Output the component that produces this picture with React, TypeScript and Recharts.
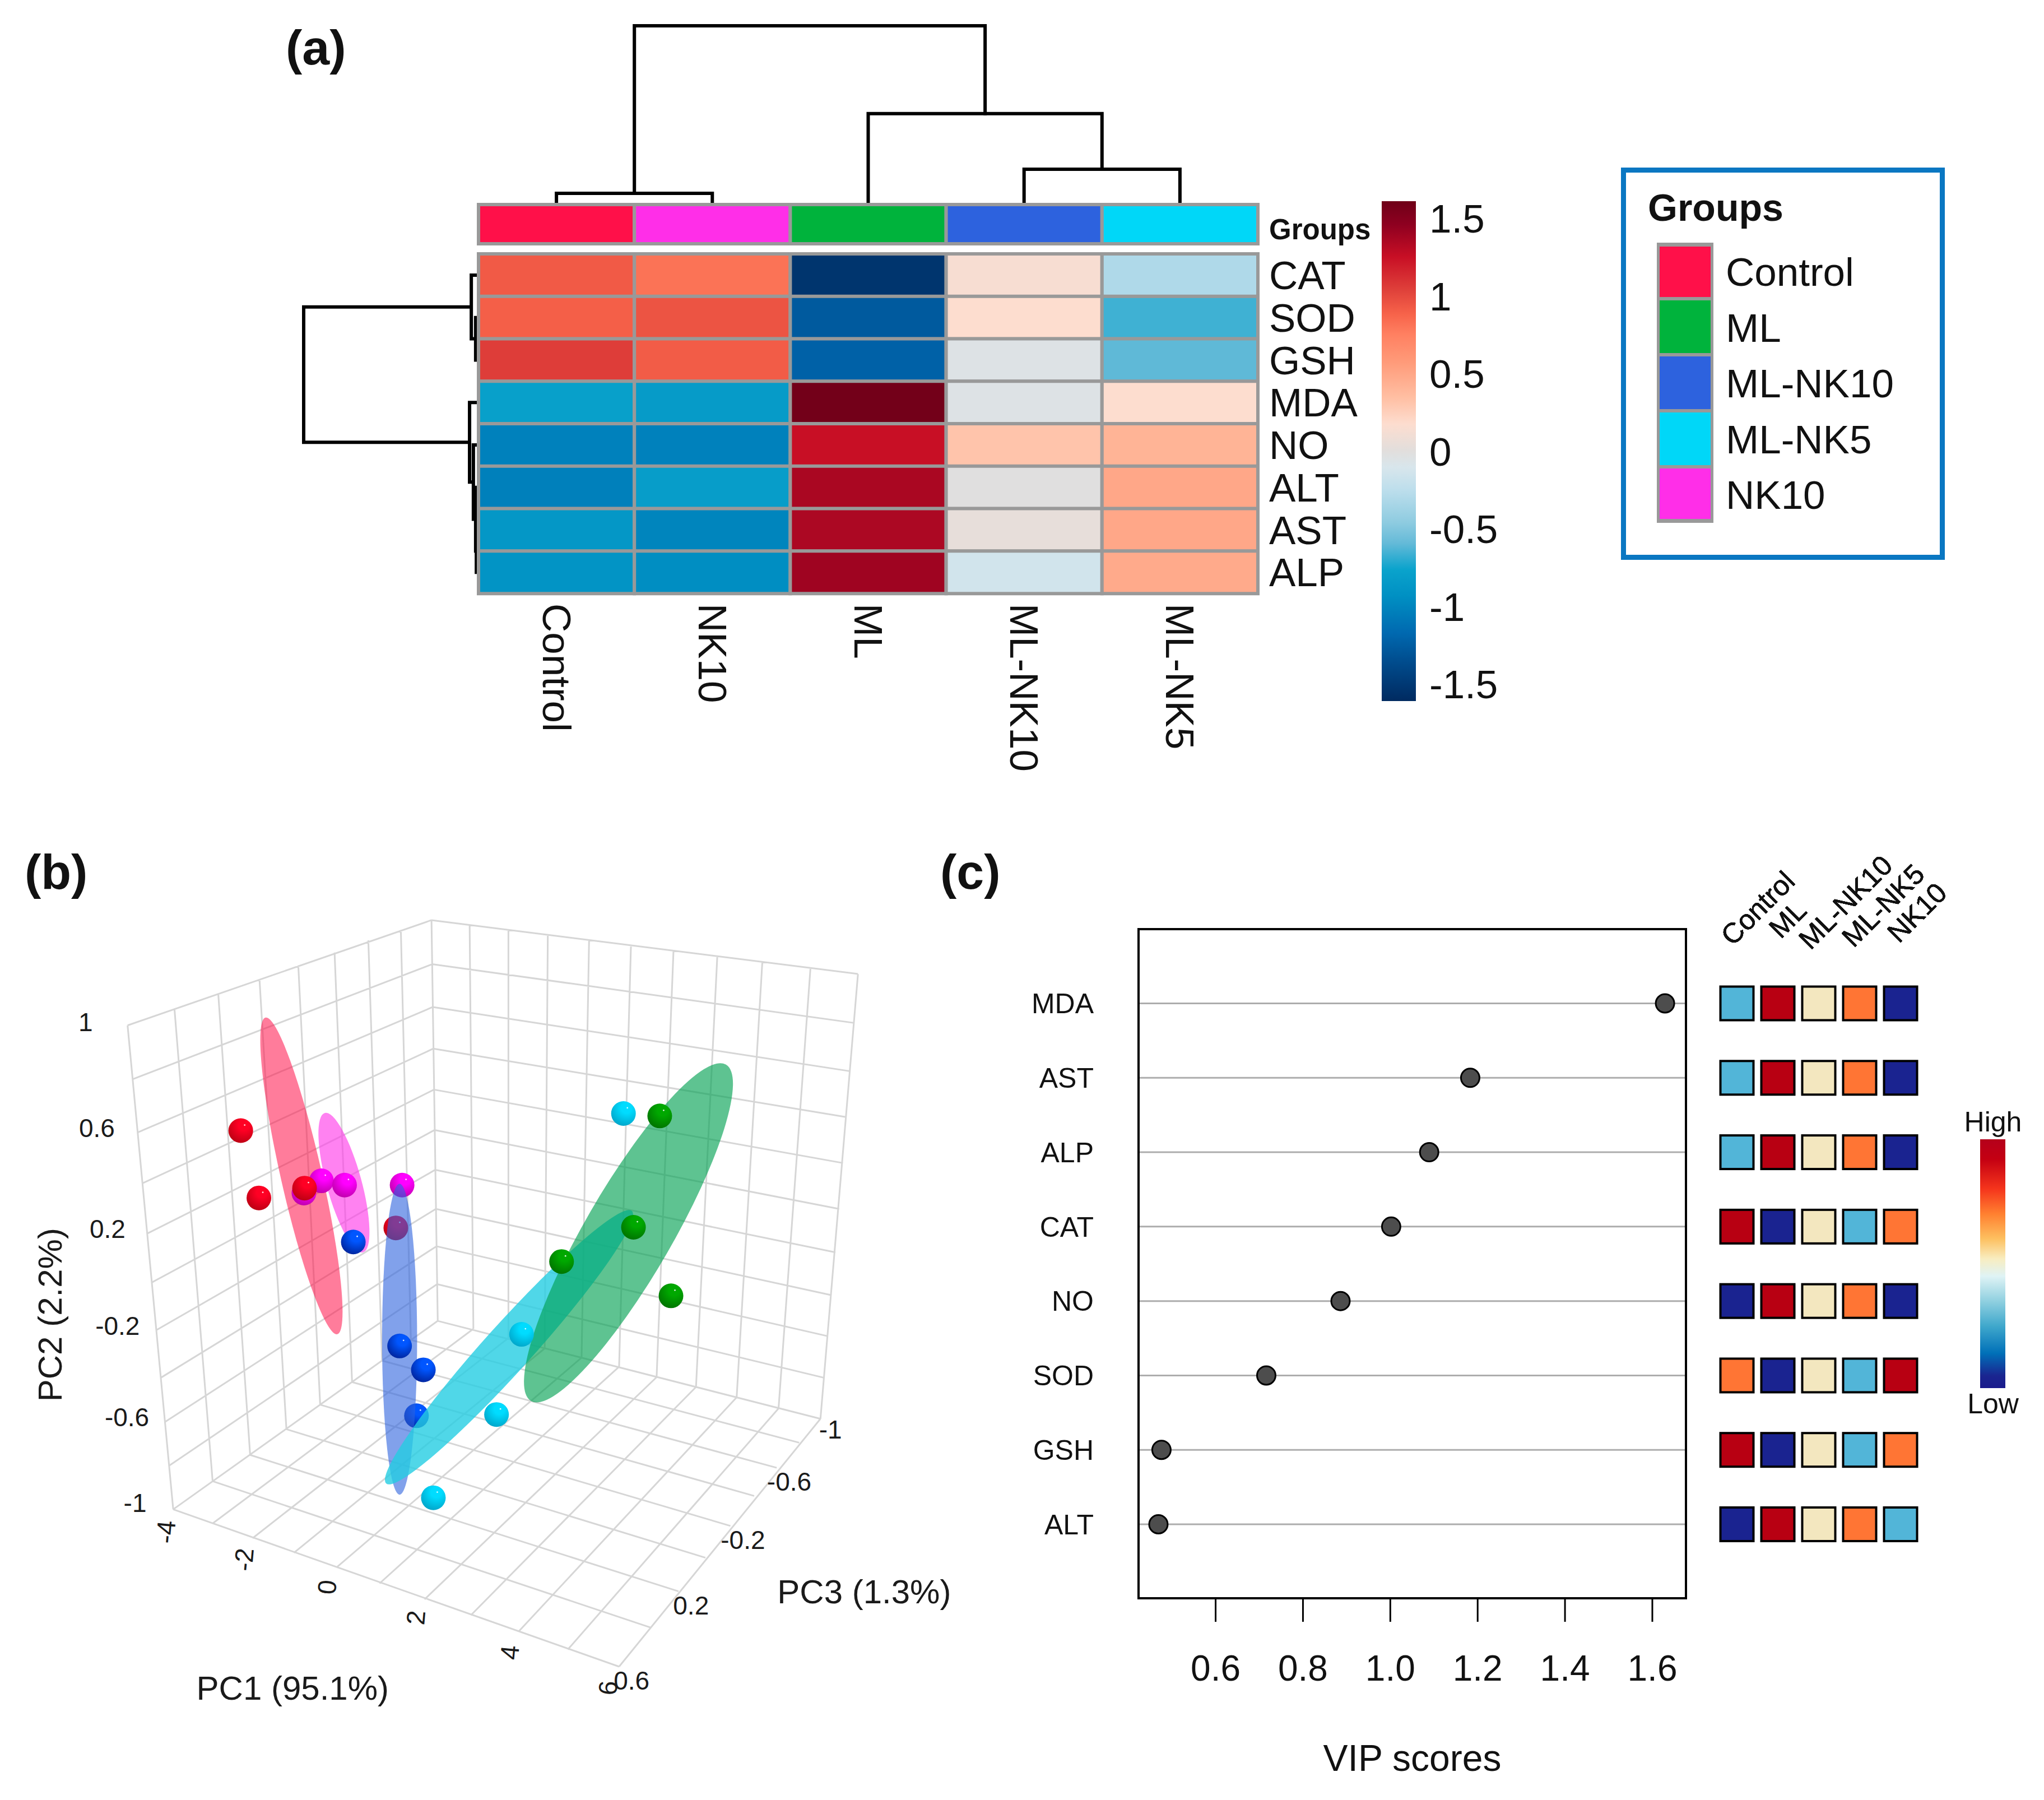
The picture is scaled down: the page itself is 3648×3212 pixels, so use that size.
import {
  BarChart, Bar, Cell, XAxis, YAxis, LineChart, Line,
  ComposedChart, Scatter, ScatterChart, CartesianGrid,
} from "recharts"

const FONT = "Liberation Sans"

// ── (a) heatmap data ─────────────────────────────────────────────────────────

const groups = ["Control", "ML", "ML-NK10", "ML-NK5", "NK10"]
const groupColors: Record<string, string> = {
  Control: "#FF1049", ML: "#00B33C", "ML-NK10": "#2D62DE", "ML-NK5": "#00D7F8", NK10: "#FF2EE8",
}
const heatColumns = ["Control", "NK10", "ML", "ML-NK10", "ML-NK5"]
const heatRows = ["CAT", "SOD", "GSH", "MDA", "NO", "ALT", "AST", "ALP"]
const heatValues = [
  [0.93, 0.82, -1.53, 0.14, -0.31],
  [0.91, 0.96, -1.27, 0.18, -0.66],
  [1.06, 0.92, -1.22, -0.05, -0.6],
  [-0.79, -0.83, 1.6, -0.05, 0.18],
  [-1.02, -1.02, 1.26, 0.32, 0.42],
  [-1.03, -0.81, 1.37, -0.01, 0.5],
  [-0.87, -1.0, 1.36, 0.04, 0.5],
  [-0.89, -0.94, 1.41, -0.14, 0.48],
]
const colorbarTicks = [-1.5, -1, -0.5, 0, 0.5, 1, 1.5]
const colorbarRange = [-1.608, 1.612]

// z value -> colour
const zStops: [number, string][] = [
  [1.62, "#6F0018"], [1.47, "#8E0020"], [1.26, "#C80F25"], [1.04, "#E0423B"], [0.89, "#F7634A"],
  [0.76, "#FF8061"], [0.57, "#FF9C7B"], [0.35, "#FFBFA3"], [0.18, "#FDDDCF"], [0.01, "#E2DEDC"],
  [-0.1, "#D8E6EC"], [-0.25, "#BCDEEC"], [-0.46, "#8DCBE0"], [-0.59, "#64BAD8"], [-0.76, "#0AA3CC"],
  [-0.93, "#0090C3"], [-1.17, "#0069B0"], [-1.37, "#004A8B"], [-1.61, "#002A60"],
]

function zColor(z: number) {
  for (let i = 0; i < zStops.length - 1; i++) {
    const [z0, c0] = zStops[i]
    const [z1, c1] = zStops[i + 1]
    if (z <= z0 && z >= z1) {
      const t = (z0 - z) / (z0 - z1)
      const mix = [1, 3, 5].map((p) => {
        const a = parseInt(c0.slice(p, p + 2), 16)
        const b = parseInt(c1.slice(p, p + 2), 16)
        return Math.round(a + (b - a) * t)
      })
      return `rgb(${mix.join(",")})`
    }
  }
  return z > 0 ? zStops[0][1] : zStops[zStops.length - 1][1]
}

// dendrogram merges: a,b = leaf positions, h = merge height, ha,hb = child heights
const columnMerges = [
  { a: 0.5, b: 1.5, h: 5.1, ha: 0, hb: 0 },
  { a: 3.5, b: 4.5, h: 18.7, ha: 0, hb: 0 },
  { a: 2.5, b: 4, h: 50.2, ha: 0, hb: 18.7 },
  { a: 1, b: 3.25, h: 100, ha: 5.1, hb: 50.2 },
]
const rowMerges = [
  { a: 1.5, b: 2.5, h: 1, ha: 0, hb: 0 },
  { a: 0.5, b: 2, h: 3.5, ha: 0, hb: 1 },
  { a: 6.5, b: 7.5, h: 0.6, ha: 0, hb: 0 },
  { a: 5.5, b: 7, h: 1, ha: 0, hb: 0.6 },
  { a: 4.5, b: 6.25, h: 2.3, ha: 0, hb: 1 },
  { a: 3.5, b: 5.375, h: 4.5, ha: 0, hb: 2.3 },
  { a: 1.25, b: 4.44, h: 100, ha: 3.5, hb: 4.5 },
]

// ── (b) PCA in the projected plane ───────────────────────────────────────────

type Pt = [number, number]
const wallLeftTop: Pt[] = [[204, 302], [279, 275], [349, 250], [415, 227], [477, 204], [535, 183], [589, 163], [641, 146], [690, 130]]
const wallLeftBottom: Pt[] = [[277, 1093], [340, 1047], [400, 1004], [458, 962], [512, 922], [563, 885], [611, 850], [657, 816], [700, 785]]
const edgeLeft: Pt[] = [[204, 302], [212, 390], [220, 477], [228, 560], [236, 642], [243, 722], [250, 800], [257, 878], [264, 950], [270, 1022], [277, 1093]]
const edgeBack: Pt[] = [[690, 130], [691, 202], [692, 272], [693, 340], [694, 407], [695, 473], [696, 538], [697, 602], [698, 663], [699, 725], [700, 785]]
const edgeRight: Pt[] = [[1372, 218], [1366, 298], [1360, 377], [1354, 452], [1348, 527], [1342, 602], [1336, 673], [1330, 743], [1324, 810], [1318, 878], [1312, 945]]
const wallRightTop: Pt[] = [[690, 130], [751, 138], [813, 146], [876, 154], [942, 163], [1009, 171], [1077, 180], [1147, 190], [1219, 199], [1296, 209], [1372, 218]]
const wallRightBottom: Pt[] = [[700, 785], [757, 798], [813, 813], [871, 830], [930, 845], [990, 860], [1050, 877], [1113, 893], [1178, 910], [1245, 928], [1312, 945]]
const floorFront: Pt[] = [[277, 1093], [340, 1116], [404, 1140], [470, 1164], [538, 1188], [607, 1214], [679, 1240], [753, 1266], [829, 1293], [908, 1322], [990, 1350]]
const floorSide: Pt[] = [[990, 1350], [1040, 1286], [1085, 1227], [1128, 1172], [1168, 1120], [1206, 1071], [1242, 1025], [1278, 984], [1312, 945]]

const gridPairs: [Pt[], Pt[]][] = [
  [wallLeftTop, wallLeftBottom],
  [edgeLeft, edgeBack],
  [edgeBack, edgeRight],
  [wallRightTop, wallRightBottom],
  [floorFront, wallRightBottom],
  [wallLeftBottom, floorSide],
]
const gridPoints = gridPairs.flatMap(([from, to]) =>
  from.flatMap((p, i) => [
    { x: p[0], y: p[1] },
    { x: to[i][0], y: to[i][1] },
    { x: to[i][0], y: null as number | null },
  ])
)

const redBack = [{ x: 633, y: 633 }]
const redFront = [{ x: 385, y: 474 }, { x: 414, y: 584 }, { x: 487, y: 568 }]
const magentaBack = [{ x: 643, y: 563 }]
const magentaFront = [{ x: 486, y: 576 }, { x: 514, y: 556 }, { x: 551, y: 563 }]
const blueBack = [{ x: 666, y: 940 }]
const blueFront = [{ x: 565, y: 656 }, { x: 639, y: 826 }, { x: 677, y: 865 }]
const cyanFront = [{ x: 997, y: 446 }, { x: 834, y: 807 }, { x: 794, y: 938 }, { x: 693, y: 1074 }]
const greenFront = [{ x: 1055, y: 450 }, { x: 1013, y: 632 }, { x: 898, y: 688 }, { x: 1073, y: 744 }]

const ellipseRed = [{ x: 482, y: 548, major: 265, minor: 33, angle: 77.5 }]
const ellipsePink = [{ x: 550, y: 559, major: 118, minor: 28, angle: 75 }]
const ellipseBlue = [{ x: 639, y: 815, major: 254, minor: 28, angle: 90 }]
const ellipseCyan = [{ x: 814, y: 828, major: 297, minor: 38, angle: 131.4 }]
const ellipseGreen = [{ x: 1005, y: 641, major: 316, minor: 70, angle: 119.5 }]

const pc1Ticks = [
  { x: 265, y: 1130, label: "-4" }, { x: 390, y: 1175, label: "-2" }, { x: 523, y: 1220, label: "0" },
  { x: 665, y: 1270, label: "2" }, { x: 815, y: 1327, label: "4" }, { x: 972, y: 1385, label: "6" },
]
const pc2Ticks = [
  { x: 137, y: 297, label: "1" }, { x: 155, y: 470, label: "0.6" }, { x: 172, y: 635, label: "0.2" },
  { x: 188, y: 793, label: "-0.2" }, { x: 203, y: 942, label: "-0.6" }, { x: 216, y: 1083, label: "-1" },
]
const pc3Ticks = [
  { x: 1328, y: 963, label: "-1" }, { x: 1262, y: 1048, label: "-0.6" }, { x: 1188, y: 1143, label: "-0.2" },
  { x: 1105, y: 1250, label: "0.2" }, { x: 1010, y: 1373, label: "0.6" },
]
const titlesFlat = [{ x: 468, y: 1385, label: "PC1 (95.1%)" }, { x: 1382, y: 1228, label: "PC3 (1.3%)" }]
const titlesUp = [{ x: 80, y: 775, label: "PC2 (2.2%)" }]

// ── (c) VIP scores ───────────────────────────────────────────────────────────

const vipNames = ["MDA", "AST", "ALP", "CAT", "NO", "SOD", "GSH", "ALT"]
const vipScores = [1.629, 1.183, 1.089, 1.002, 0.886, 0.716, 0.476, 0.469]
const vipTicks = [0.6, 0.8, 1.0, 1.2, 1.4, 1.6]
// relative level per group: 1 low ... 5 high
const vipLevels = [
  [2, 5, 3, 4, 1],
  [2, 5, 3, 4, 1],
  [2, 5, 3, 4, 1],
  [5, 1, 3, 2, 4],
  [1, 5, 3, 4, 1],
  [4, 1, 3, 2, 5],
  [5, 1, 3, 2, 4],
  [1, 5, 3, 4, 2],
]
const levelColors = ["#1A2390", "#52B5D8", "#F3E7BF", "#FF7534", "#B80012"]
const vipStops: [number, string][] = [
  [0, "#B5001B"], [0.08, "#C40012"], [0.2, "#F5351C"], [0.3, "#FF8030"], [0.4, "#FDC060"], [0.48, "#F8EDC0"],
  [0.55, "#DFF3F5"], [0.65, "#90D0E0"], [0.75, "#40A8CC"], [0.86, "#0070B8"], [0.95, "#1A2590"], [1, "#1A1A8C"],
]

// ─────────────────────────────────────────────────────────────────────────────

const heatTable = heatRows.map((name) => ({ name, ...Object.fromEntries(heatColumns.map((c) => [c, 1])) }))
const annotationTable = [{ name: "Groups", ...Object.fromEntries(heatColumns.map((c) => [c, 1])) }]
const vipData = vipNames.map((name, i) => ({ name, score: vipScores[i] }))
const vipCells = vipNames.flatMap((name, r) =>
  groups.map((group, c) => ({ name, group, level: vipLevels[r][c] }))
)

const BALLS: Record<string, [string, string]> = {
  red: ["#FF0024", "#B00010"],
  magenta: ["#FF00FF", "#B4009C"],
  blue: ["#0056FF", "#001C8C"],
  cyan: ["#00DCFF", "#009CC0"],
  green: ["#00A800", "#006A00"],
}

function ballShape(color: string, opacity = 1) {
  return (p: any) => (
    <g opacity={opacity}>
      <circle cx={p.cx} cy={p.cy} r={22} fill={`url(#ball-${color})`} />
      <circle cx={p.cx + 7} cy={p.cy - 10} r={1.4} fill="#fff" opacity={0.85} />
    </g>
  )
}

function ellipseShape(fill: string, opacity: number) {
  return (p: any) => (
    <g transform={`translate(${p.cx} ${p.cy}) scale(${1750 / 1568} ${1712 / 1568}) rotate(${p.payload.angle})`}>
      <ellipse rx={p.payload.major} ry={p.payload.minor} fill={fill} fillOpacity={opacity} />
    </g>
  )
}

function labelShape(fontSize: number, angle = 0) {
  return (p: any) => (
    <text
      x={p.cx}
      y={p.cy}
      fontSize={fontSize}
      fontFamily={FONT}
      fill="#1a1a1a"
      textAnchor="middle"
      dominantBaseline="central"
      transform={`rotate(${angle} ${p.cx} ${p.cy})`}
    >
      {p.payload.label}
    </text>
  )
}

function ColumnLabel(p: any) {
  const name = heatColumns[Math.floor(p.payload.value)]
  return (
    <text
      x={p.x}
      y={p.y}
      fontSize={71}
      fontFamily={FONT}
      fill="#111"
      textAnchor="start"
      dominantBaseline="central"
      transform={`rotate(90 ${p.x} ${p.y})`}
    >
      {name}
    </text>
  )
}

const headerDx: Record<string, number> = {
  Control: -0.64, ML: -0.28, "ML-NK10": -0.84, "ML-NK5": -0.73, NK10: -0.5,
}

function GroupHeader(p: any) {
  const x = p.x + 15
  const y = 167
  return (
    <text
      x={x}
      y={y}
      dx={`${headerDx[p.payload.value]}em`}
      fontSize={50}
      fontFamily={FONT}
      fill="#111"
      transform={`rotate(-45 ${x} ${y})`}
    >
      {p.payload.value}
    </text>
  )
}

function abs(left: number, top: number) {
  return { position: "absolute" as const, left, top }
}

function Tag({ x, y, size, bold, width, children }: any) {
  return (
    <div
      style={{
        ...abs(x, y),
        width,
        textAlign: width ? "center" : "left",
        transform: "translateY(-50%)",
        fontFamily: FONT,
        fontSize: size,
        fontWeight: bold ? 700 : 400,
        color: "#111",
        lineHeight: 1,
        whiteSpace: "nowrap",
      }}
    >
      {children}
    </div>
  )
}

function cellBars(colorFor: (row: number, col: number) => string) {
  return heatColumns.map((c, col) => (
    <Bar key={c} dataKey={c} stackId="a" stroke="#999" strokeWidth={6} isAnimationActive={false}>
      {heatRows.map((_, row) => (
        <Cell key={row} fill={colorFor(row, col)} />
      ))}
    </Bar>
  ))
}

export default function App() {
  return (
    <div style={{ ...abs(0, 0), width: 3648, height: 3212, background: "#fff", overflow: "hidden" }}>
      {/* ── (a) ── */}
      <Tag x={510} y={85} size={88} bold>(a)</Tag>

      <div style={abs(854, 41)}>
        <LineChart width={1391} height={325} margin={{ top: 5, right: 0, bottom: 5, left: 0 }}>
          <XAxis dataKey="x" type="number" domain={[0, 5]} hide />
          <YAxis type="number" domain={[0, 100]} hide />
          {columnMerges.map((m, i) => (
            <Line
              key={i}
              data={[{ x: m.a, y: m.ha }, { x: m.a, y: m.h }, { x: m.b, y: m.h }, { x: m.b, y: m.hb }]}
              dataKey="y"
              stroke="#000"
              strokeWidth={6}
              strokeLinecap="square"
              dot={false}
              isAnimationActive={false}
            />
          ))}
        </LineChart>
      </div>

      <div style={abs(532, 453)}>
        <LineChart width={320} height={606} margin={{ top: 0, right: 0, bottom: 0, left: 10 }}>
          <XAxis dataKey="x" type="number" domain={[0, 100]} reversed hide />
          <YAxis type="number" domain={[0, 8]} reversed hide />
          {rowMerges.map((m, i) => (
            <Line
              key={i}
              data={[{ x: m.ha, y: m.a }, { x: m.h, y: m.a }, { x: m.h, y: m.b }, { x: m.hb, y: m.b }]}
              dataKey="y"
              stroke="#000"
              strokeWidth={6}
              dot={false}
              isAnimationActive={false}
            />
          ))}
        </LineChart>
      </div>

      <div style={abs(848, 359)}>
        <BarChart
          width={1617}
          height={82}
          data={annotationTable}
          layout="vertical"
          barCategoryGap={0}
          margin={{ top: 6, right: 0, bottom: 6, left: 6 }}
        >
          <XAxis type="number" domain={[0, 5]} hide />
          <YAxis
            type="category"
            dataKey="name"
            orientation="right"
            width={220}
            axisLine={false}
            tickLine={false}
            tickMargin={14}
            tick={{ fontSize: 51, fontWeight: 700, fontFamily: FONT, fill: "#111", dy: 9 }}
          />
          {cellBars((_r, c) => groupColors[heatColumns[c]])}
        </BarChart>
      </div>

      <div style={abs(848, 447)}>
        <BarChart
          width={1617}
          height={1020}
          data={heatTable}
          layout="vertical"
          barCategoryGap={0}
          margin={{ top: 6, right: 0, bottom: 0, left: 6 }}
        >
          <XAxis
            type="number"
            domain={[0, 5]}
            ticks={[0.5, 1.5, 2.5, 3.5, 4.5]}
            interval={0}
            height={408}
            axisLine={false}
            tickLine={false}
            tickSize={0}
            tickMargin={18}
            tick={ColumnLabel}
          />
          <YAxis
            type="category"
            dataKey="name"
            orientation="right"
            width={220}
            interval={0}
            axisLine={false}
            tickLine={false}
            tickMargin={14}
            tick={{ fontSize: 71, fontFamily: FONT, fill: "#111" }}
          />
          {cellBars((r, c) => zColor(heatValues[r][c]))}
        </BarChart>
      </div>

      <div style={abs(2466, 349)}>
        <BarChart
          width={240}
          height={912}
          data={[{ name: "z", range: colorbarRange }]}
          barCategoryGap={0}
          margin={{ top: 10, right: 0, bottom: 10, left: 0 }}
        >
          <defs>
            <linearGradient id="zgrad" x1="0" y1="0" x2="0" y2="1">
              {zStops.map(([z, c]) => (
                <stop key={z} offset={(1.62 - z) / 3.23} stopColor={c} />
              ))}
            </linearGradient>
          </defs>
          <XAxis dataKey="name" hide />
          <YAxis
            type="number"
            orientation="right"
            domain={colorbarRange}
            ticks={colorbarTicks}
            interval={0}
            allowDataOverflow
            width={179}
            axisLine={false}
            tickLine={false}
            tickMargin={18}
            tick={{ fontSize: 71, fontFamily: FONT, fill: "#111" }}
            tickFormatter={(v) => String(v)}
          />
          <Bar dataKey="range" fill="url(#zgrad)" isAnimationActive={false} />
        </BarChart>
      </div>

      {/* legend */}
      <div style={{ ...abs(2893, 299), width: 578, height: 700, boxSizing: "border-box", border: "9px solid #0A77C2" }} />
      <Tag x={2941} y={370} size={68} bold>Groups</Tag>
      {groups.map((g, i) => (
        <div key={g}>
          <div
            style={{
              ...abs(2957, 433 + i * 100),
              width: 101,
              height: 100,
              boxSizing: "border-box",
              background: groupColors[g],
              border: "3px solid #999",
              borderLeftWidth: 5,
              borderRightWidth: 5,
              borderTopWidth: i === 0 ? 7 : 3,
              borderBottomWidth: i === 4 ? 7 : 3,
            }}
          />
          <Tag x={3080} y={485 + i * 99.5} size={71}>{g}</Tag>
        </div>
      ))}

      {/* ── (b) ── */}
      <Tag x={44} y={1556} size={88} bold>(b)</Tag>
      <div style={abs(0, 1500)}>
        <ComposedChart width={1750} height={1712} margin={{ top: 0, right: 0, bottom: 0, left: 0 }}>
          <defs>
            {Object.entries(BALLS).map(([name, [hi, lo]]) => (
              <radialGradient key={name} id={`ball-${name}`} cx="0.62" cy="0.28" r="0.85">
                <stop offset="0.25" stopColor={hi} />
                <stop offset="1" stopColor={lo} />
              </radialGradient>
            ))}
          </defs>
          <XAxis dataKey="x" type="number" domain={[0, 1568]} hide />
          <YAxis dataKey="y" type="number" domain={[0, 1568]} reversed hide />
          <Line data={gridPoints} dataKey="y" stroke="#D6D6D6" strokeWidth={3} dot={false} connectNulls={false} isAnimationActive={false} />
          <Scatter data={redBack} shape={ballShape("red")} isAnimationActive={false} />
          <Scatter data={magentaBack} shape={ballShape("magenta")} isAnimationActive={false} />
          <Scatter data={blueBack} shape={ballShape("blue")} isAnimationActive={false} />
          <Scatter data={ellipseRed} shape={ellipseShape("#FF1049", 0.55)} isAnimationActive={false} />
          <Scatter data={ellipsePink} shape={ellipseShape("#FF2EE8", 0.6)} isAnimationActive={false} />
          <Scatter data={ellipseBlue} shape={ellipseShape("#2D62DE", 0.6)} isAnimationActive={false} />
          <Scatter data={ellipseCyan} shape={ellipseShape("#24CDE2", 0.8)} isAnimationActive={false} />
          <Scatter data={ellipseGreen} shape={ellipseShape("#00A050", 0.63)} isAnimationActive={false} />
          <Scatter data={magentaFront} shape={ballShape("magenta")} isAnimationActive={false} />
          <Scatter data={redFront} shape={ballShape("red")} isAnimationActive={false} />
          <Scatter data={blueFront} shape={ballShape("blue")} isAnimationActive={false} />
          <Scatter data={cyanFront} shape={ballShape("cyan")} isAnimationActive={false} />
          <Scatter data={greenFront} shape={ballShape("green")} isAnimationActive={false} />
          <Scatter data={pc1Ticks} shape={labelShape(46, -85)} isAnimationActive={false} />
          <Scatter data={pc2Ticks} shape={labelShape(46)} isAnimationActive={false} />
          <Scatter data={pc3Ticks} shape={labelShape(46)} isAnimationActive={false} />
          <Scatter data={titlesFlat} shape={labelShape(60)} isAnimationActive={false} />
          <Scatter data={titlesUp} shape={labelShape(60, -90)} isAnimationActive={false} />
        </ComposedChart>
      </div>

      {/* ── (c) ── */}
      <Tag x={1678} y={1556} size={88} bold>(c)</Tag>
      <div style={abs(1800, 1500)}>
        <ScatterChart width={1300} height={1712} margin={{ top: 158, right: 91, bottom: 40, left: 0 }}>
          <CartesianGrid horizontal vertical={false} stroke="#ADADAD" strokeWidth={3} />
          <XAxis
            dataKey="score"
            type="number"
            domain={[0.4235, 1.677]}
            ticks={vipTicks}
            interval={0}
            allowDataOverflow
            height={320}
            axisLine={false}
            tickSize={42}
            tickMargin={60}
            tickLine={{ stroke: "#000", strokeWidth: 3 }}
            tick={{ fontSize: 64, fontFamily: FONT, fill: "#111" }}
            tickFormatter={(v) => v.toFixed(1)}
            label={{ value: "VIP scores", position: "insideBottom", offset: 12, fontSize: 66, fontFamily: FONT, fill: "#111" }}
          />
          <YAxis
            dataKey="name"
            type="category"
            scale="point"
            reversed
            interval={0}
            allowDuplicatedCategory={false}
            padding={{ top: 132.5, bottom: 132 }}
            width={232}
            axisLine={false}
            tickLine={false}
            tickSize={0}
            tickMargin={80}
            tick={{ fontSize: 50, fontFamily: FONT, fill: "#111" }}
          />
          <Scatter
            data={vipData}
            isAnimationActive={false}
            shape={(p: any) => <circle cx={p.cx} cy={p.cy} r={16.5} fill="#4D4D4D" stroke="#000" strokeWidth={3} />}
          />
        </ScatterChart>
      </div>
      {/* plot frame */}
      <div style={{ ...abs(2030, 1656), width: 981, height: 1198, boxSizing: "border-box", border: "4px solid #000", pointerEvents: "none" }} />

      <div style={abs(3000, 1500)}>
        <ScatterChart width={480} height={1712} margin={{ top: 0, right: 88, bottom: 360, left: 100 }}>
          <XAxis
            dataKey="group"
            type="category"
            orientation="top"
            scale="point"
            allowDuplicatedCategory={false}
            height={158}
            interval={0}
            axisLine={false}
            tickLine={false}
            tick={GroupHeader}
          />
          <YAxis
            dataKey="name"
            type="category"
            scale="point"
            reversed
            allowDuplicatedCategory={false}
            padding={{ top: 132.5, bottom: 132 }}
            hide
          />
          <Scatter
            data={vipCells}
            isAnimationActive={false}
            shape={(p: any) => (
              <rect
                x={p.cx - 29.5}
                y={p.cy - 30}
                width={59}
                height={60}
                fill={levelColors[p.payload.level - 1]}
                stroke="#000"
                strokeWidth={4}
              />
            )}
          />
        </ScatterChart>
      </div>

      <div style={abs(3534, 2033)}>
        <BarChart width={45} height={444} data={[{ name: "scale", range: [0, 1] }]} barCategoryGap={0} margin={{ top: 0, right: 0, bottom: 0, left: 0 }}>
          <defs>
            <linearGradient id="vipgrad" x1="0" y1="0" x2="0" y2="1">
              {vipStops.map(([o, c]) => (
                <stop key={o} offset={o} stopColor={c} />
              ))}
            </linearGradient>
          </defs>
          <XAxis dataKey="name" hide />
          <YAxis type="number" domain={[0, 1]} hide />
          <Bar dataKey="range" fill="url(#vipgrad)" isAnimationActive={false} />
        </BarChart>
      </div>
      <Tag x={3457} y={2002} size={50} width={200}>High</Tag>
      <Tag x={3457} y={2505} size={50} width={200}>Low</Tag>
    </div>
  )
}
